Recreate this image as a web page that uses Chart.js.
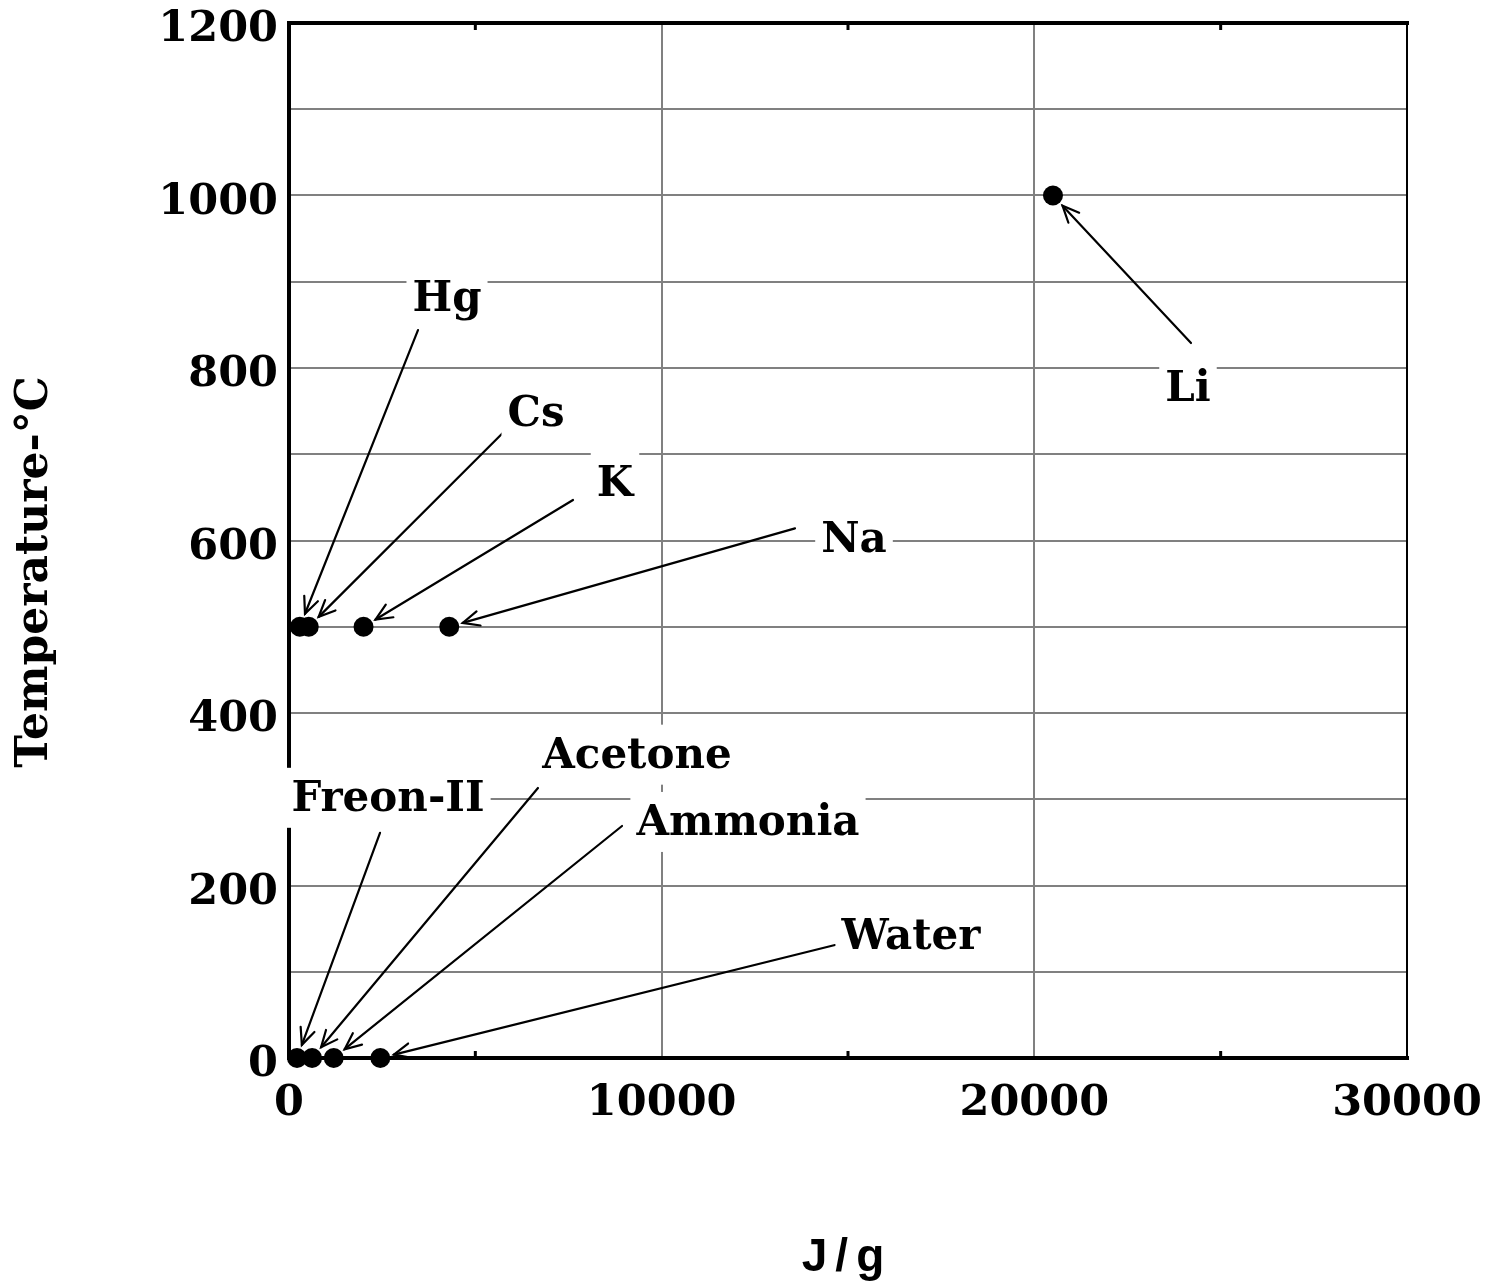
<!DOCTYPE html>
<html>
<head>
<meta charset="utf-8">
<script src="https://cdn.jsdelivr.net/npm/chart.js@4.4.1/dist/chart.umd.min.js"></script>
<style>
  html, body { margin: 0; padding: 0; background: #fff; }
  canvas { display: block; }
</style>
</head>
<body>
<canvas id="chart" width="1490" height="1284"></canvas>
<script>
/* ── data: latent heat (J/g) vs operating temperature (°C) ── */
const fluids      = ['Hg', 'Cs', 'K', 'Na', 'Li', 'Freon-II', 'Acetone', 'Ammonia', 'Water'];
const heatJg      = [290, 530, 2000, 4300, 20500, 215, 620, 1200, 2450];
const tempC       = [500, 500, 500, 500, 1000, 0, 0, 0, 0];

/* label anchor and arrow tail, in data units */
const labelX      = [4240, 6628, 8748, 15161, 24123, 2657, 9338, 12316, 16690];
const labelY      = [883, 750, 669, 604, 779, 304, 354, 276, 144];
const tailX       = [3461, 5742, 7621, 13578, 24204, 2442, 6681, 8936, 14651];
const tailY       = [844, 725, 647, 614, 829, 261, 313, 269, 131];

const xMajor      = [0, 10000, 20000, 30000];
const xMinor      = [5000, 15000, 25000];

const SERIF = '"DejaVu Serif", serif';
const GRID  = '#808080';

/* ── frame, arrows, labels, titles ── */
const overlay = {
  id: 'overlay',
  beforeDatasetsDraw(chart) {
    const { ctx, chartArea: a, scales: { x } } = chart;
    ctx.save();

    // frame
    ctx.strokeStyle = '#000';
    ctx.lineCap = 'square';
    ctx.lineWidth = 4;
    ctx.beginPath();
    ctx.moveTo(a.right, a.top); ctx.lineTo(a.left, a.top); ctx.lineTo(a.left, a.bottom); ctx.lineTo(a.right, a.bottom);
    ctx.stroke();
    ctx.lineWidth = 2;
    ctx.beginPath(); ctx.moveTo(a.right, a.top); ctx.lineTo(a.right, a.bottom); ctx.stroke();

    // minor ticks (inside)
    ctx.lineWidth = 3;
    ctx.lineCap = 'butt';
    xMinor.forEach(v => {
      const px = x.getPixelForValue(v);
      ctx.beginPath(); ctx.moveTo(px, a.top); ctx.lineTo(px, a.top + 7); ctx.stroke();
      ctx.beginPath(); ctx.moveTo(px, a.bottom); ctx.lineTo(px, a.bottom - 7); ctx.stroke();
    });
    ctx.restore();
  },
  afterDatasetsDraw(chart) {
    const { ctx, scales: { x, y } } = chart;
    ctx.save();
    ctx.strokeStyle = '#000';

    // arrows
    ctx.lineWidth = 2.2;
    ctx.lineCap = 'round';
    fluids.forEach((_, i) => {
      const px = x.getPixelForValue(heatJg[i]), py = y.getPixelForValue(tempC[i]);
      const tx = x.getPixelForValue(tailX[i]), ty = y.getPixelForValue(tailY[i]);
      const ang = Math.atan2(ty - py, tx - px);
      const hx = px + Math.cos(ang) * 14, hy = py + Math.sin(ang) * 14;
      ctx.beginPath(); ctx.moveTo(tx, ty); ctx.lineTo(hx, hy); ctx.stroke();
      const L = 18, w = 0.42;
      ctx.beginPath();
      ctx.moveTo(hx + Math.cos(ang + w) * L, hy + Math.sin(ang + w) * L);
      ctx.lineTo(hx, hy);
      ctx.lineTo(hx + Math.cos(ang - w) * L, hy + Math.sin(ang - w) * L);
      ctx.stroke();
    });

    // labels on white boxes
    ctx.font = 'bold 42px ' + SERIF;
    ctx.textAlign = 'center';
    ctx.textBaseline = 'middle';
    fluids.forEach((name, i) => {
      const lx = x.getPixelForValue(labelX[i]), ly = y.getPixelForValue(labelY[i]);
      const tw = ctx.measureText(name).width;
      ctx.fillStyle = '#fff';
      ctx.fillRect(lx - tw / 2 - 6, ly - 28, tw + 12, 60);
      ctx.fillStyle = '#000';
      ctx.fillText(name, lx, ly + 4);
    });

    // axis titles
    ctx.font = 'bold 44px ' + SERIF;
    ctx.save();
    ctx.translate(36, 572);
    ctx.rotate(-Math.PI / 2);
    ctx.fillText('Temperature-°C', 0, 0);
    ctx.restore();

    ctx.font = 'bold 46px "Liberation Sans", Arial, sans-serif';
    ctx.letterSpacing = '8px';
    ctx.fillText('J/g', 847, 1258);
    ctx.restore();
  }
};

new Chart(document.getElementById('chart'), {
  type: 'scatter',
  data: {
    datasets: [{
      data: heatJg.map((v, i) => ({ x: v, y: tempC[i] })),
      clip: false,
      pointRadius: 10,
      pointHoverRadius: 10,
      pointBackgroundColor: '#000',
      pointBorderWidth: 0,
    }],
  },
  options: {
    responsive: false,
    animation: false,
    devicePixelRatio: 1,
    layout: { padding: { top: 23, right: 83, left: 0, bottom: 0 } },
    plugins: { legend: { display: false }, tooltip: { enabled: false } },
    scales: {
      x: {
        type: 'linear', min: 0, max: 30000,
        afterFit: s => { s.height = 226; s.paddingLeft = 0; s.paddingRight = 0; },
        afterBuildTicks: s => { s.ticks = xMajor.concat(xMinor).sort((a, b) => a - b).map(v => ({ value: v })); },
        ticks: {
          color: '#000', padding: 20, maxRotation: 0, autoSkip: false,
          font: { family: SERIF, size: 43, weight: 'bold' },
          callback: v => xMajor.includes(v) ? String(v) : '',
        },
        grid: {
          drawTicks: false, lineWidth: 2,
          color: c => (c.tick && (c.tick.value === 10000 || c.tick.value === 20000)) ? GRID : 'rgba(0,0,0,0)',
        },
        border: { display: false },
      },
      y: {
        type: 'linear', min: 0, max: 1200,
        afterFit: s => { s.width = 289; s.paddingTop = 0; s.paddingBottom = 0; },
        ticks: {
          stepSize: 100, color: '#000', padding: 11, autoSkip: false, labelOffset: 7,
          font: { family: SERIF, size: 43, weight: 'bold' },
          callback: v => v % 200 === 0 ? String(v) : '',
        },
        grid: { drawTicks: false, lineWidth: 2, color: GRID },
        border: { display: false },
      },
    },
  },
  plugins: [overlay],
});
</script>
</body>
</html>
